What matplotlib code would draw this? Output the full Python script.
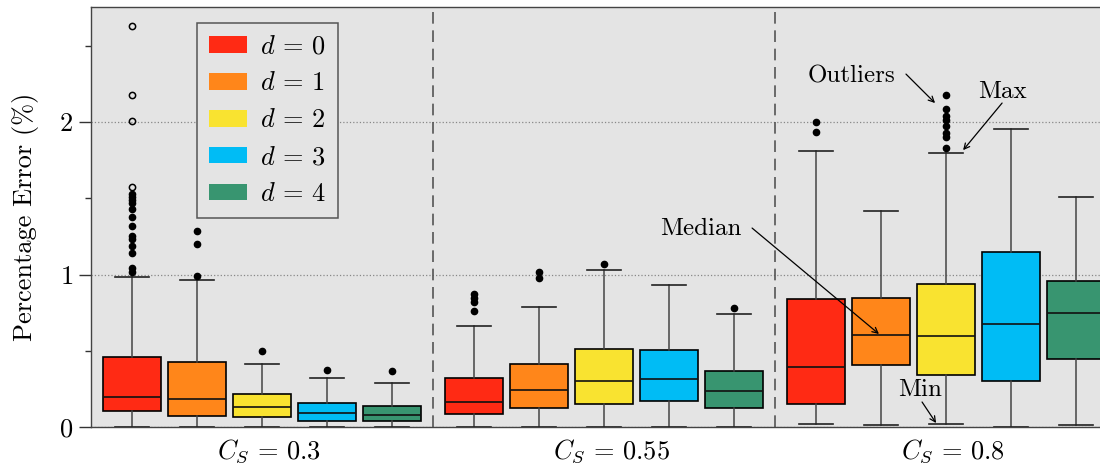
import matplotlib
matplotlib.use("Agg")
import matplotlib.pyplot as plt
from matplotlib.patches import Patch
from matplotlib.transforms import ScaledTranslation

plt.rcParams['font.family'] = ['cmr10', 'DejaVu Serif']
plt.rcParams['mathtext.fontset'] = 'cm'
plt.rcParams['axes.formatter.use_mathtext'] = True

# ---------------- data ----------------
groups = [r'$C_S\,=\,0.3$', r'$C_S\,=\,0.55$', r'$C_S\,=\,0.8$']
series = [r'$d\,=\,0$', r'$d\,=\,1$', r'$d\,=\,2$', r'$d\,=\,3$', r'$d\,=\,4$']
colors = ['#ff2a14', '#ff861a', '#f9e330', '#00bcf5', '#389570']

# per group, per d
medians = [[0.199, 0.181, 0.129, 0.092, 0.081],
           [0.162, 0.245, 0.302, 0.313, 0.234],
           [0.396, 0.603, 0.595, 0.675, 0.750]]
q1 = [[0.105, 0.070, 0.068, 0.041, 0.037],
      [0.087, 0.125, 0.149, 0.168, 0.122],
      [0.153, 0.409, 0.343, 0.300, 0.444]]
q3 = [[0.461, 0.428, 0.214, 0.155, 0.140],
      [0.323, 0.411, 0.509, 0.503, 0.369],
      [0.837, 0.844, 0.936, 1.146, 0.957]]
whisk_lo = [[0.002, 0.002, 0.002, 0.002, 0.002],
            [0.002, 0.002, 0.002, 0.002, 0.002],
            [0.018, 0.011, 0.020, 0.002, 0.011]]
whisk_hi = [[0.984, 0.962, 0.415, 0.319, 0.289],
            [0.664, 0.785, 1.032, 0.931, 0.739],
            [1.808, 1.416, 1.797, 1.956, 1.510]]
outliers = [[[1.02, 1.04, 1.14, 1.19, 1.23, 1.25, 1.32, 1.38, 1.43, 1.47, 1.49, 1.51, 1.53],
             [0.988, 1.20, 1.283], [0.496], [0.372], [0.367]],
            [[0.758, 0.82, 0.845, 0.875], [0.979, 1.016], [1.067], [], [0.782]],
            [[1.937, 1.998], [], [1.832, 1.90, 1.93, 1.975, 2.013, 2.04, 2.083, 2.177], [], []]]
# far outliers drawn hollow (group 0, d = 0)
far_outliers = [1.576, 2.01, 2.18, 2.63]

bg = '#e4e4e4'
fig = plt.figure(figsize=(11, 4.69), dpi=100)
ax = fig.add_axes([91/1100, 42/469, 1026/1100, 420/469])
ax.set_facecolor(bg)

offsets = [-0.38, -0.19, 0.0, 0.19, 0.38]
bw = 0.17
for g in range(len(groups)):
    stats, pos = [], []
    for d in range(len(series)):
        stats.append(dict(med=medians[g][d], q1=q1[g][d], q3=q3[g][d],
                          whislo=whisk_lo[g][d], whishi=whisk_hi[g][d],
                          fliers=outliers[g][d]))
        pos.append(g + offsets[d])
    bp = ax.bxp(stats, positions=pos, widths=bw, patch_artist=True,
                manage_ticks=False,
                boxprops=dict(edgecolor='black', linewidth=1.2),
                medianprops=dict(color='#111111', linewidth=1.2),
                whiskerprops=dict(color='#444444', linewidth=1.1),
                capprops=dict(color='#222222', linewidth=1.2),
                capwidths=0.1,
                flierprops=dict(marker='o', markerfacecolor='black',
                                markeredgecolor='black', markersize=4.5))
    for patch, c in zip(bp['boxes'], colors):
        patch.set_facecolor(c)
    for w in bp['whiskers'] + bp['caps'] + bp['medians'] + bp['boxes'] + bp['fliers']:
        w.set_zorder(3)

ax.plot([offsets[0]] * len(far_outliers), far_outliers, linestyle='none',
        marker='o', markerfacecolor='none', markeredgecolor='black',
        markersize=4.5, markeredgewidth=1.1, zorder=3)

# dividers
for xv in [0.5, 1.5]:
    ax.axvline(xv, color='#555555', linewidth=1.2, linestyle=(0, (7, 4)), zorder=1)

ax.set_xlim(-0.5, 2.5)
ax.set_ylim(0, 2.755)
ax.set_xticks(range(len(groups)))
ax.set_xticklabels(groups, fontsize=19)
ax.tick_params(axis='x', length=0, pad=7)
shift = ScaledTranslation(7/100, 0, fig.dpi_scale_trans)
for lab in ax.get_xticklabels():
    lab.set_transform(lab.get_transform() + shift)
ax.set_yticks([0, 1, 2])
ax.set_yticks([0.5, 1.5, 2.5], minor=True)
ax.tick_params(axis='y', which='major', length=9, width=1, labelsize=19, pad=4, color='#333333')
ax.tick_params(axis='y', which='minor', length=4.5, width=1, color='#333333')
ax.yaxis.grid(True, which='major', linestyle=':', color='#888888', linewidth=0.9)
ax.set_axisbelow(True)
ax.set_ylabel('Percentage Error (%)', fontsize=19, labelpad=14)

for s in ['left', 'top', 'bottom']:
    ax.spines[s].set_color('#444444')
    ax.spines[s].set_linewidth(1.0)

handles = [Patch(facecolor=c, edgecolor='none') for c in colors]
leg = ax.legend(handles, series, loc='upper left', bbox_to_anchor=(0.103, 0.962),
                borderaxespad=0, fontsize=19, frameon=True, fancybox=False,
                handlelength=1.45, handleheight=0.6, labelspacing=0.5,
                handletextpad=0.5, borderpad=0.45)
leg.get_frame().set_facecolor(bg)
leg.get_frame().set_edgecolor('#555555')
leg.get_frame().set_linewidth(1.1)
leg.get_frame().set_alpha(1)

# annotations
fs_ann = 18
arrow = dict(arrowstyle='->', color='black', linewidth=0.9, shrinkA=0, shrinkB=0)
ax.text(1.725, 2.30, 'Outliers', fontsize=fs_ann, ha='center', va='center')
ax.annotate('', xy=(1.968, 2.125), xytext=(1.883, 2.315), arrowprops=arrow)
ax.text(2.164, 2.197, 'Max', fontsize=fs_ann, ha='center', va='center')
ax.annotate('', xy=(2.05, 1.816), xytext=(2.164, 2.125), arrowprops=arrow)
ax.text(1.284, 1.298, 'Median', fontsize=fs_ann, ha='center', va='center')
ax.annotate('', xy=(1.804, 0.61), xytext=(1.433, 1.305), arrowprops=arrow)
ax.text(1.924, 0.243, 'Min', fontsize=fs_ann, ha='center', va='center')
ax.annotate('', xy=(1.971, 0.026), xytext=(1.930, 0.164), arrowprops=arrow)

fig.savefig('out.png', dpi=100)
